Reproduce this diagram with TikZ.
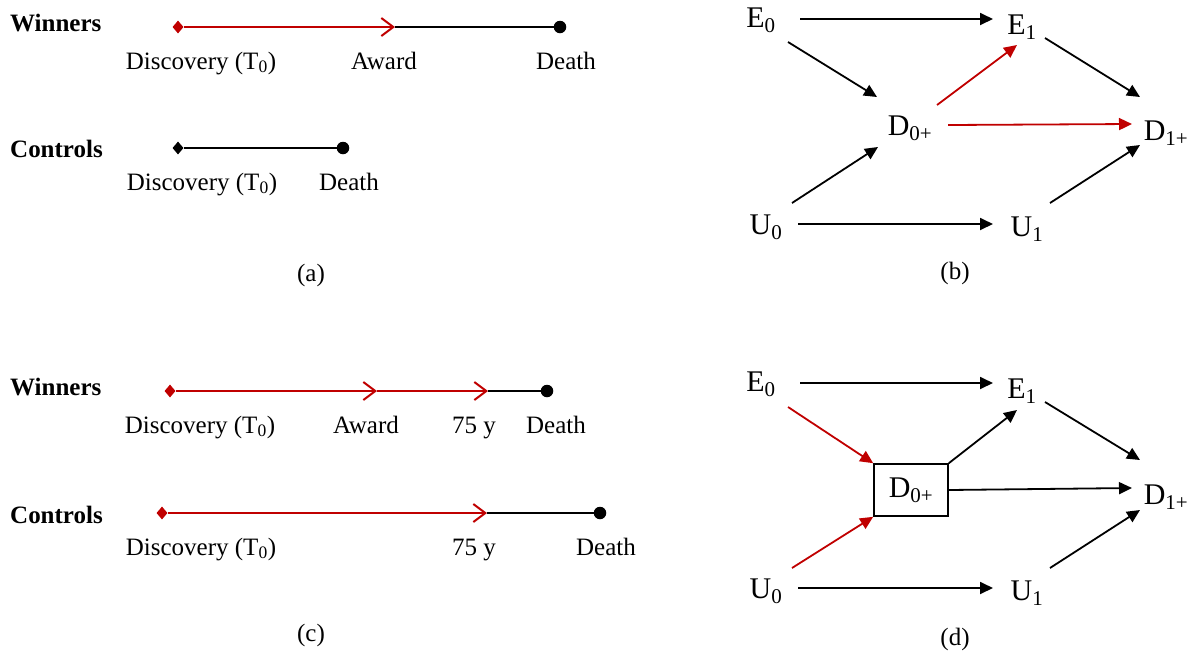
\documentclass[tikz,border=0pt]{standalone}
\usepackage{fontspec}
\setmainfont{Liberation Serif}
\usetikzlibrary{arrows.meta,shapes.geometric,calc}
\definecolor{dred}{RGB}{192,0,0}
\begin{document}
\begin{tikzpicture}[x=1pt,y=-1pt,
  lbl/.style={font=\fontsize{25}{30}\selectfont, inner sep=0pt, anchor=base},
  grp/.style={font=\bfseries\fontsize{25}{30}\selectfont, inner sep=0pt, anchor=base west},
  captxt/.style={font=\fontsize{25}{30}\selectfont, inner sep=0pt, anchor=base},
  var/.style={font=\fontsize{30}{36}\selectfont, inner sep=0pt},
  tl/.style={line width=2pt},
  redtl/.style={tl, dred, -{Straight Barb[length=12pt,width=18pt]}},
  tlstart/.style={diamond, fill=#1, inner sep=0pt, minimum width=11pt, minimum height=13pt},
  tlend/.style={circle, fill=black, inner sep=0pt, minimum size=12.5pt},
  arr/.style={line width=1.8pt, -{Triangle[length=13pt,width=12pt]}},
  redarr/.style={arr, dred},
  boxnode/.style={draw, line width=1.6pt, minimum width=74pt, minimum height=52pt, inner sep=0pt},
]
\useasboundingbox (0,0) rectangle (1195,657);

% ---------------- (a) ----------------
\node[grp] (aW) at (10,31) {Winners};
\node[tlstart=dred] (a1s) at (178,27) {};
\coordinate (a1a) at (395,27);
\node[tlend] (a1d) at (560,27) {};
\draw[tl] (a1a) -- (a1d);
\draw[redtl] (a1s) -- (a1a);
\node[lbl] (a1l1) at (201,69) {Discovery (T\textsubscript{0})};
\node[lbl] (a1l2) at (384,69) {Award};
\node[lbl] (a1l3) at (566,69) {Death};

\node[grp] (aC) at (10,157) {Controls};
\node[tlstart=black] (a2s) at (178,148) {};
\node[tlend] (a2d) at (343,148) {};
\draw[tl] (a2s) -- (a2d);
\node[lbl] (a2l1) at (202,190) {Discovery (T\textsubscript{0})};
\node[lbl] (a2l2) at (349,190) {Death};

\node[captxt] (capa) at (311,281) {(a)};

% ---------------- (c) ----------------
\node[grp] (cW) at (10,395) {Winners};
\node[tlstart=dred] (c1s) at (170,391) {};
\coordinate (c1a) at (377,391);
\coordinate (c1y) at (488,391);
\node[tlend] (c1d) at (547,391) {};
\draw[tl] (c1y) -- (c1d);
\draw[redtl] (c1a) -- (c1y);
\draw[redtl] (c1s) -- (c1a);
\node[lbl] (c1l1) at (200,433) {Discovery (T\textsubscript{0})};
\node[lbl] (c1l2) at (366,433) {Award};
\node[lbl] (c1l3) at (474,433) {75 y};
\node[lbl] (c1l4) at (556,433) {Death};

\node[grp] (cC) at (10,523) {Controls};
\node[tlstart=dred] (c2s) at (162,513) {};
\coordinate (c2y) at (487,513);
\node[tlend] (c2d) at (600,513) {};
\draw[tl] (c2y) -- (c2d);
\draw[redtl] (c2s) -- (c2y);
\node[lbl] (c2l1) at (201,555) {Discovery (T\textsubscript{0})};
\node[lbl] (c2l2) at (474,555) {75 y};
\node[lbl] (c2l3) at (606,555) {Death};

\node[captxt] (capc) at (311,641) {(c)};

% ---------------- (b) ----------------
\node[var] (bE0) at (761,20) {E\textsubscript{0}};
\node[var] (bE1) at (1022,27) {E\textsubscript{1}};
\node[var] (bD0) at (910,128) {D\textsubscript{0+}};
\node[var] (bD1) at (1166,133) {D\textsubscript{1+}};
\node[var] (bU0) at (766,227) {U\textsubscript{0}};
\node[var] (bU1) at (1027,229) {U\textsubscript{1}};

\draw[arr] ($(bE0)+(39,-1)$) -- ($(bE1)+(-29,-8)$);
\draw[arr] ($(bE0)+(27,22)$) -- ($(bD0)+(-33,-31)$);
\draw[redarr] ($(bD0)+(27,-23)$) -- ($(bE1)+(-5,18)$);
\draw[redarr] ($(bD0)+(38,-3)$) -- ($(bD1)+(-34,-9)$);
\draw[arr] ($(bE1)+(23,11)$) -- ($(bD1)+(-26,-36)$);
\draw[arr] ($(bU0)+(26,-24)$) -- ($(bD0)+(-32,19)$);
\draw[arr] ($(bU0)+(32,-3)$) -- ($(bU1)+(-34,-5)$);
\draw[arr] ($(bU1)+(23,-26)$) -- ($(bD1)+(-26,12)$);

\node[captxt] (capb) at (955,279) {(b)};

% ---------------- (d) ----------------
\node[var] (dE0) at (761,384) {E\textsubscript{0}};
\node[var] (dE1) at (1022,391) {E\textsubscript{1}};
\node[var, boxnode] (dD0) at (911,490) {D\textsubscript{0+}};
\node[var] (dD1) at (1166,497) {D\textsubscript{1+}};
\node[var] (dU0) at (766,591) {U\textsubscript{0}};
\node[var] (dU1) at (1027,593) {U\textsubscript{1}};

\draw[arr] ($(dE0)+(39,-1)$) -- ($(dE1)+(-29,-8)$);
\draw[redarr] ($(dE0)+(27,23)$) -- (dD0.north west);
\draw[arr] (dD0.north east) -- ($(dE1)+(-5,19)$);
\draw[arr] (dD0.east) -- ($(dD1)+(-34,-9)$);
\draw[arr] ($(dE1)+(23,11)$) -- ($(dD1)+(-26,-37)$);
\draw[redarr] ($(dU0)+(26,-23)$) -- (dD0.south west);
\draw[arr] ($(dU0)+(32,-3)$) -- ($(dU1)+(-34,-5)$);
\draw[arr] ($(dU1)+(23,-25)$) -- ($(dD1)+(-26,13)$);

\node[captxt] (capd) at (955,645) {(d)};
\end{tikzpicture}
\end{document}
